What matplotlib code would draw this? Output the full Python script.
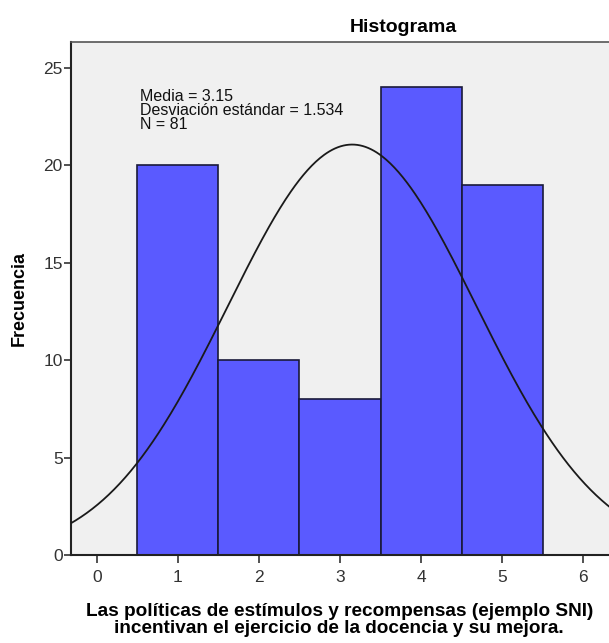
import numpy as np
import matplotlib.pyplot as plt

# histogram data (Likert scale answers)
categories = [1, 2, 3, 4, 5]
counts = [20, 10, 8, 24, 19]
mean = 3.15
std = 1.534
n = 81
xticks = [0, 1, 2, 3, 4, 5, 6]
yticks = [0, 5, 10, 15, 20, 25]

plt.rcParams['font.family'] = ['Liberation Sans', 'DejaVu Sans']

fig = plt.figure(figsize=(6.09, 6.43), dpi=100)
ax = fig.add_axes([0.1166, 0.1369, 0.8834, 0.7978])
ax.set_facecolor('#f0f0f0')

ax.bar(categories, counts, width=1.0, color='#5a5aff', edgecolor='#1a1a3a', linewidth=1.2, zorder=2)

# normal curve scaled to counts
xs = np.linspace(-0.4, 6.4, 400)
ys = n * np.exp(-0.5 * ((xs - mean) / std) ** 2) / (std * np.sqrt(2 * np.pi))
ax.plot(xs, ys, color='#1a1a1a', linewidth=1.3, zorder=3)

ax.set_xlim(-0.32, 6.32)
ax.set_ylim(0, 26.33)
ax.set_xticks(xticks)
ax.set_yticks(yticks)
ax.tick_params(axis='both', labelsize=12.5, colors='#333333', length=5, width=1.2)
ax.tick_params(axis='x', length=6, pad=5)
ax.tick_params(axis='y', pad=1)

for side in ['left', 'bottom']:
    ax.spines[side].set_color('#222222')
    ax.spines[side].set_linewidth(1.5)
ax.spines['top'].set_color('#555555')
ax.spines['top'].set_linewidth(1.2)
ax.spines['right'].set_visible(False)

ax.text(0.128, 0.908, 'Media = 3.15\nDesviación estándar = 1.534\nN = 81',
        transform=ax.transAxes, fontsize=11.5, va='top', ha='left',
        linespacing=0.9, color='#111111')

fig.text(0.663, 0.958, 'Histograma', fontsize=14, fontweight='bold', ha='center', va='center')
ax.set_ylabel('Frecuencia', fontsize=13, fontweight='bold')
ax.yaxis.set_label_coords(-0.08, 0.5)
fig.text(0.557, 0.036, 'Las políticas de estímulos y recompensas (ejemplo SNI)\nincentivan el ejercicio de la docencia y su mejora.',
         fontsize=13.7, fontweight='bold', ha='center', va='center', linespacing=0.95)

fig.savefig('out.png', dpi=100)
